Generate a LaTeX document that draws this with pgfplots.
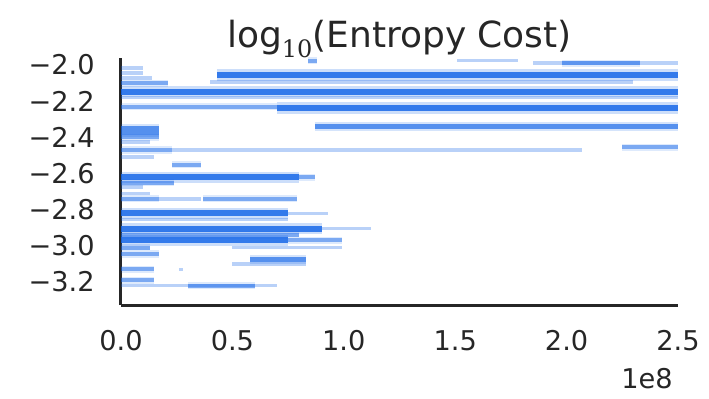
\documentclass[border=0pt]{standalone}
\usepackage{fontspec}
\setmainfont{DejaVu Sans}
\newfontfamily\dvserif{DejaVu Serif}
\usepackage{pgfplots}
\usepackage{pgfplotstable}
\pgfplotsset{compat=1.18}
\definecolor{pb}{RGB}{24,104,232}
\definecolor{spine}{RGB}{38,38,38}
\definecolor{tick}{RGB}{38,38,38}
% x in units of 1e8, y = log10(entropy cost); rows of nan separate streaks
\pgfplotstableread{
x y
0.43 -2.055
2.5 -2.055
nan nan
0 -2.147
2.5 -2.147
nan nan
0.7 -2.237
2.5 -2.237
nan nan
0 -2.62
0.8 -2.62
nan nan
0 -2.82
0.75 -2.82
nan nan
0 -2.905
0.9 -2.905
nan nan
0 -2.97
0.75 -2.97
}\strong
\pgfplotstableread{
x y
0.87 -2.34
2.5 -2.34
nan nan
0 -2.35
0.17 -2.35
nan nan
0 -2.375
0.17 -2.375
nan nan
0.58 -3.075
0.83 -3.075
}\medstrong
\pgfplotstableread{
x y
0.84 -1.975
0.88 -1.975
nan nan
1.98 -1.99
2.33 -1.99
nan nan
0 -2.1
0.21 -2.1
nan nan
0 -2.23
0.7 -2.23
nan nan
0 -2.40
0.17 -2.40
nan nan
0 -2.47
0.23 -2.47
nan nan
2.25 -2.455
2.5 -2.455
nan nan
0.23 -2.55
0.36 -2.55
nan nan
0.8 -2.62
0.87 -2.62
nan nan
0 -2.65
0.24 -2.65
nan nan
0 -2.74
0.17 -2.74
nan nan
0.37 -2.74
0.79 -2.74
nan nan
0 -2.94
0.8 -2.94
nan nan
0.75 -2.97
0.99 -2.97
nan nan
0 -3.01
0.13 -3.01
nan nan
0 -3.045
0.17 -3.045
nan nan
0 -3.13
0.15 -3.13
nan nan
0 -3.19
0.15 -3.19
nan nan
0.3 -3.22
0.6 -3.22
}\medium
\pgfplotstableread{
x y
1.51 -1.975
1.78 -1.975
nan nan
1.85 -1.99
2.5 -1.99
nan nan
0 -2.017
0.1 -2.017
nan nan
0 -2.045
0.1 -2.045
nan nan
0 -2.07
0.14 -2.07
nan nan
0.4 -2.095
2.3 -2.095
nan nan
0 -2.18
2.5 -2.18
nan nan
0 -2.425
0.13 -2.425
nan nan
0.23 -2.47
2.07 -2.47
nan nan
0 -2.51
0.15 -2.51
nan nan
0 -2.675
0.1 -2.675
nan nan
0 -2.71
0.13 -2.71
nan nan
0.17 -2.74
0.36 -2.74
nan nan
0.75 -2.82
0.93 -2.82
nan nan
0 -2.855
0.75 -2.855
nan nan
0.9 -2.905
1.12 -2.905
nan nan
0.5 -3.01
0.99 -3.01
nan nan
0.5 -3.10
0.83 -3.10
nan nan
0.26 -3.13
0.28 -3.13
nan nan
0 -3.22
0.7 -3.22
}\faint
\begin{document}
\begin{tikzpicture}
\useasboundingbox (-60.5pt,-46.5pt) rectangle (294pt,152.5pt);
\begin{axis}[
  at={(0,0)}, anchor=south west,
  scale only axis, width=278.5pt, height=123.5pt,
  xmin=0, xmax=2.5, ymin=-3.327, ymax=-1.961,
  clip=false,
  axis x line*=bottom, axis y line*=left,
  axis line style={-, draw=spine, line width=1.5pt},
  major tick length=0pt,
  xtick={0,0.5,1,1.5,2,2.5},
  xticklabels={0.0,0.5,1.0,1.5,2.0,2.5},
  ytick={-3.2,-3.0,-2.8,-2.6,-2.4,-2.2,-2.0},
  yticklabels={−3.2,−3.0,−2.8,−2.6,−2.4,−2.2,−2.0},
  every tick label/.append style={inner sep=0pt, text=tick, font=\fontsize{13.6}{16}\selectfont},
  xticklabel style={anchor=north, yshift=-12.5pt},
  yticklabel style={anchor=east, xshift=-13pt},
  every axis title shift=0pt,
  title={log\raisebox{-0.28em}{\fontsize{12}{14}\selectfont\dvserif 10}(Entropy Cost)},
  title style={at={(0.5,1)}, anchor=base, yshift=5.5pt, inner sep=0pt, text=tick, font=\fontsize{18}{21}\selectfont},
  unbounded coords=jump,
  every axis plot/.append style={no marks, color=pb, line cap=butt},
]
% soft halos
\addplot[line width=5.6pt, opacity=0.22] table {\strong};
\addplot[line width=4.4pt, opacity=0.18] table {\medstrong};
\addplot[line width=3.6pt, opacity=0.14] table {\medium};
% cores
\addplot[line width=3.0pt, opacity=0.85] table {\strong};
\addplot[line width=2.4pt, opacity=0.68] table {\medstrong};
\addplot[line width=2.0pt, opacity=0.5] table {\medium};
\addplot[line width=1.8pt, opacity=0.3] table {\faint};
\node[anchor=north east, inner sep=0pt, text=tick, font=\fontsize{13.6}{16}\selectfont, xshift=-2.5pt, yshift=-31.5pt] at (rel axis cs:1,0) {1e8};
\end{axis}
\end{tikzpicture}
\end{document}
